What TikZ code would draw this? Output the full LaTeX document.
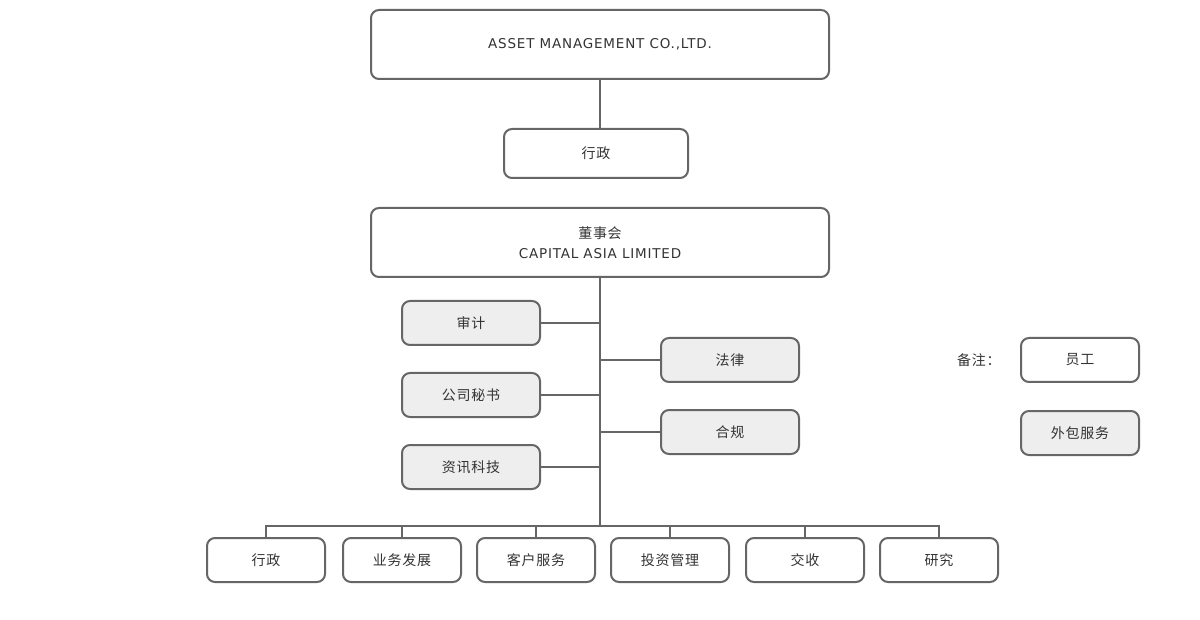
\documentclass[tikz,border=0pt]{standalone}
\usepackage{fontspec}
\setmainfont{Noto Sans CJK SC}[LetterSpace=5]
\newfontfamily\lat{DejaVu Sans}[LetterSpace=6]
\begin{document}
\begin{tikzpicture}[x=1pt,y=-1pt,
  box/.style={draw=lc, line width=2pt, rounded corners=8pt, fill=white, text=tc, font=\fontsize{14}{20}\selectfont, align=center, inner sep=0pt},
  gbox/.style={box, fill=gf},
  conn/.style={draw=lc, line width=2pt}]
\definecolor{lc}{HTML}{666666}
\definecolor{gf}{HTML}{EEEEEE}
\definecolor{tc}{HTML}{333333}
\useasboundingbox (0,0) rectangle (1200,620);
\node[box, minimum width=458pt, minimum height=69pt] (top) at (600,44.5) {{\lat\fontsize{13.5}{20}\selectfont ASSET MANAGEMENT CO.,LTD.}};
\node[box, minimum width=184pt, minimum height=49pt] (xz) at (596,153.5) {行政};
\node[box, minimum width=458pt, minimum height=69pt] (board) at (600,242.5) {董事会\\{\lat\fontsize{13.5}{20}\selectfont CAPITAL ASIA LIMITED}};
\coordinate (t1) at (600,79);
\coordinate (t2) at (600,129);
\draw[conn] (t1) -- (t2);
\coordinate (vtop) at (600,277);
\coordinate (vbot) at (600,527);
\draw[conn] (vtop) -- (vbot);
% side departments
\node[gbox, minimum width=138pt, minimum height=44pt] (sj) at (471,323) {审计};
\node[gbox, minimum width=138pt, minimum height=44pt] (gs) at (471,395) {公司秘书};
\node[gbox, minimum width=138pt, minimum height=44pt] (zx) at (471,467) {资讯科技};
\node[gbox, minimum width=138pt, minimum height=44pt] (fl) at (730,360) {法律};
\node[gbox, minimum width=138pt, minimum height=44pt] (hg) at (730,432) {合规};
\foreach \n in {sj,gs,zx}{\draw[conn] (\n.east) -- (\n.east -| vtop);}
\foreach \n in {fl,hg}{\draw[conn] (\n.west) -- (\n.west -| vtop);}
% legend
\node[text=tc, font=\fontsize{14}{20}\selectfont, anchor=west, inner sep=0pt] (bz) at (957,360) {备注：};
\node[box, minimum width=118pt, minimum height=44pt] (yg) at (1080,360) {员工};
\node[gbox, minimum width=118pt, minimum height=44pt] (wb) at (1080,433) {外包服务};
% bottom
\coordinate (bus) at (600,526);
\foreach \n/\x/\t in {b1/266/行政,b2/402/业务发展,b3/536/客户服务,b4/670/投资管理,b5/805/交收,b6/939/研究}{
  \node[box, minimum width=118pt, minimum height=44pt] (\n) at (\x,560) {\t};
}
\draw[conn] (b1.north) -- (b1.north |- bus) -- (b6.north |- bus) -- (b6.north);
\foreach \n in {b2,b3,b4,b5}{\draw[conn] (\n.north) -- (\n.north |- bus);}
\end{tikzpicture}
\end{document}
